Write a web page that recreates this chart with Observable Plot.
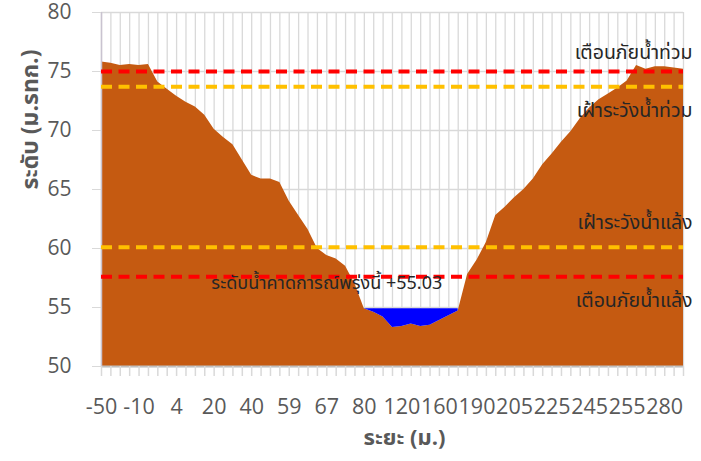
<!DOCTYPE html>
<html>
<head>
<meta charset="utf-8">
<script src="https://cdn.jsdelivr.net/npm/d3@7"></script>
<script src="https://cdn.jsdelivr.net/npm/@observablehq/plot@0.6"></script>
<style>
  html, body { margin: 0; padding: 0; background: #fff; }
  #chart { width: 701px; height: 461px; }
</style>
</head>
<body>
<div id="chart"></div>
<script>
// Distance categories (m)
const distances = [-50,-40,-30,-20,-10,-5,0,2,4,8,12,16,20,25,30,35,40,45,50,55,59,61,63,65,67,70,73,77,80,90,100,110,120,130,140,150,160,168,175,183,190,194,198,201,205,210,215,220,225,230,235,240,245,248,250,253,255,261,268,274,280,285,290];
// Ground elevation (m MSL)
const ground = [75.8,75.7,75.5,75.6,75.5,75.6,74.1,73.5,72.9,72.4,
                72.0,71.3,70.1,69.4,68.8,67.5,66.2,65.9,65.9,65.6,
                64.0,62.8,61.6,60.0,59.4,59.1,58.5,57.0,54.9,54.6,
                54.2,53.3,53.4,53.6,53.4,53.5,53.9,54.3,54.7,57.8,
                59.0,60.5,62.8,63.5,64.3,65.0,65.9,67.1,68.0,69.0,
                69.9,71.0,71.9,72.6,73.1,73.6,74.2,75.5,75.2,75.4,
                75.4,75.3,75.2];
// Current water surface
const waterLevel = 54.9;
const waterStart = 28, waterEnd = 38;
// Threshold levels
const levelNames = ["เตือนภัยน้ำท่วม", "เฝ้าระวังน้ำท่วม", "เฝ้าระวังน้ำแล้ง", "เตือนภัยน้ำแล้ง"];
const levelValues = [75.0, 73.7, 60.1, 57.6];
const levelColors = ["#FF0000", "#FFC000", "#FFC000", "#FF0000"];
const predictedLabel = "ระดับน้ำคาดการณ์พรุ่งนี้ +55.03";
const predictedValue = 55.03;
const yTicks = [50, 55, 60, 65, 70, 75, 80];
const xLabelEvery = 4;
const yTitle = "ระดับ (ม.รทก.)";
const xTitle = "ระยะ (ม.)";

const idx = d3.range(distances.length);
const waterIdx = d3.range(waterStart, waterEnd + 1);
const labelIdx = idx.filter(i => i % xLabelEvery === 0);
const levels = levelValues.map((v, i) => ({v, name: levelNames[i], color: levelColors[i]}));
const labelDy = [-19, 24, -25, 24];

const thaiFont = "'Noto Sans Thai', 'Leelawadee UI', Tahoma, 'Open Sans', 'DejaVu Sans', sans-serif";

const chart = Plot.plot({
  width: 701,
  height: 461,
  marginLeft: 101,
  marginRight: 18,
  marginTop: 12,
  marginBottom: 95,
  x: {domain: [0, distances.length - 1], axis: null},
  y: {domain: [50, 80], axis: null},
  style: {fontFamily: "'Open Sans', sans-serif", background: "#fff", overflow: "visible"},
  marks: [
    Plot.gridX(idx, {stroke: "#d9d9d9", strokeOpacity: 1, strokeWidth: 1.3}),
    Plot.gridY(yTicks, {stroke: "#d9d9d9", strokeOpacity: 1, strokeWidth: 1.3}),
    Plot.areaY(idx, {x: i => i, y1: 50, y2: i => ground[i], fill: "#C55A11"}),
    Plot.areaY(waterIdx, {x: i => i, y1: i => ground[i], y2: waterLevel, fill: "#0000FF"}),
    Plot.ruleY([50], {stroke: "#bfbfbf", strokeWidth: 2}),
    Plot.ruleX([0], {stroke: "#c9c3d0", strokeWidth: 1.5}),
    Plot.ruleY(levels, {y: "v", x1: 0, x2: distances.length - 1, stroke: "color", strokeWidth: 4, strokeDasharray: "11,6.5"}),
    Plot.axisY({ticks: yTicks, tickSize: 9, tickPadding: 21, fontSize: 21, stroke: "#d9d9d9", fill: "#595959", label: null, tickFormat: d => d}),
    Plot.axisX({ticks: idx, tickSize: 10, stroke: "#d9d9d9", strokeWidth: 1.5, tickFormat: () => "", label: null}),
    Plot.axisX({ticks: labelIdx, tickSize: 0, tickPadding: 32, fontSize: 21.5, fill: "#595959", tickFormat: i => distances[i], label: null}),
    ...levels.map((d, i) => Plot.text([d], {x: distances.length - 1, y: "v", text: "name", textAnchor: "end", dx: 9, dy: labelDy[i], fontSize: 19.5, fill: "#262626", fontFamily: thaiFont})),
    Plot.text([predictedLabel], {x: 24, y: predictedValue, text: d => d, textAnchor: "middle", dy: -24, fontSize: 18, fill: "#262626", fontFamily: thaiFont}),
    Plot.text([yTitle], {frameAnchor: "left", dx: -71, rotate: -90, text: d => d, fontSize: 23, fontWeight: "bold", fill: "#595959", fontFamily: thaiFont}),
    Plot.text([xTitle], {frameAnchor: "bottom", dx: 12, dy: 78, text: d => d, fontSize: 22, fontWeight: "bold", fill: "#595959", fontFamily: thaiFont})
  ]
});
document.getElementById("chart").append(chart);
</script>
</body>
</html>
